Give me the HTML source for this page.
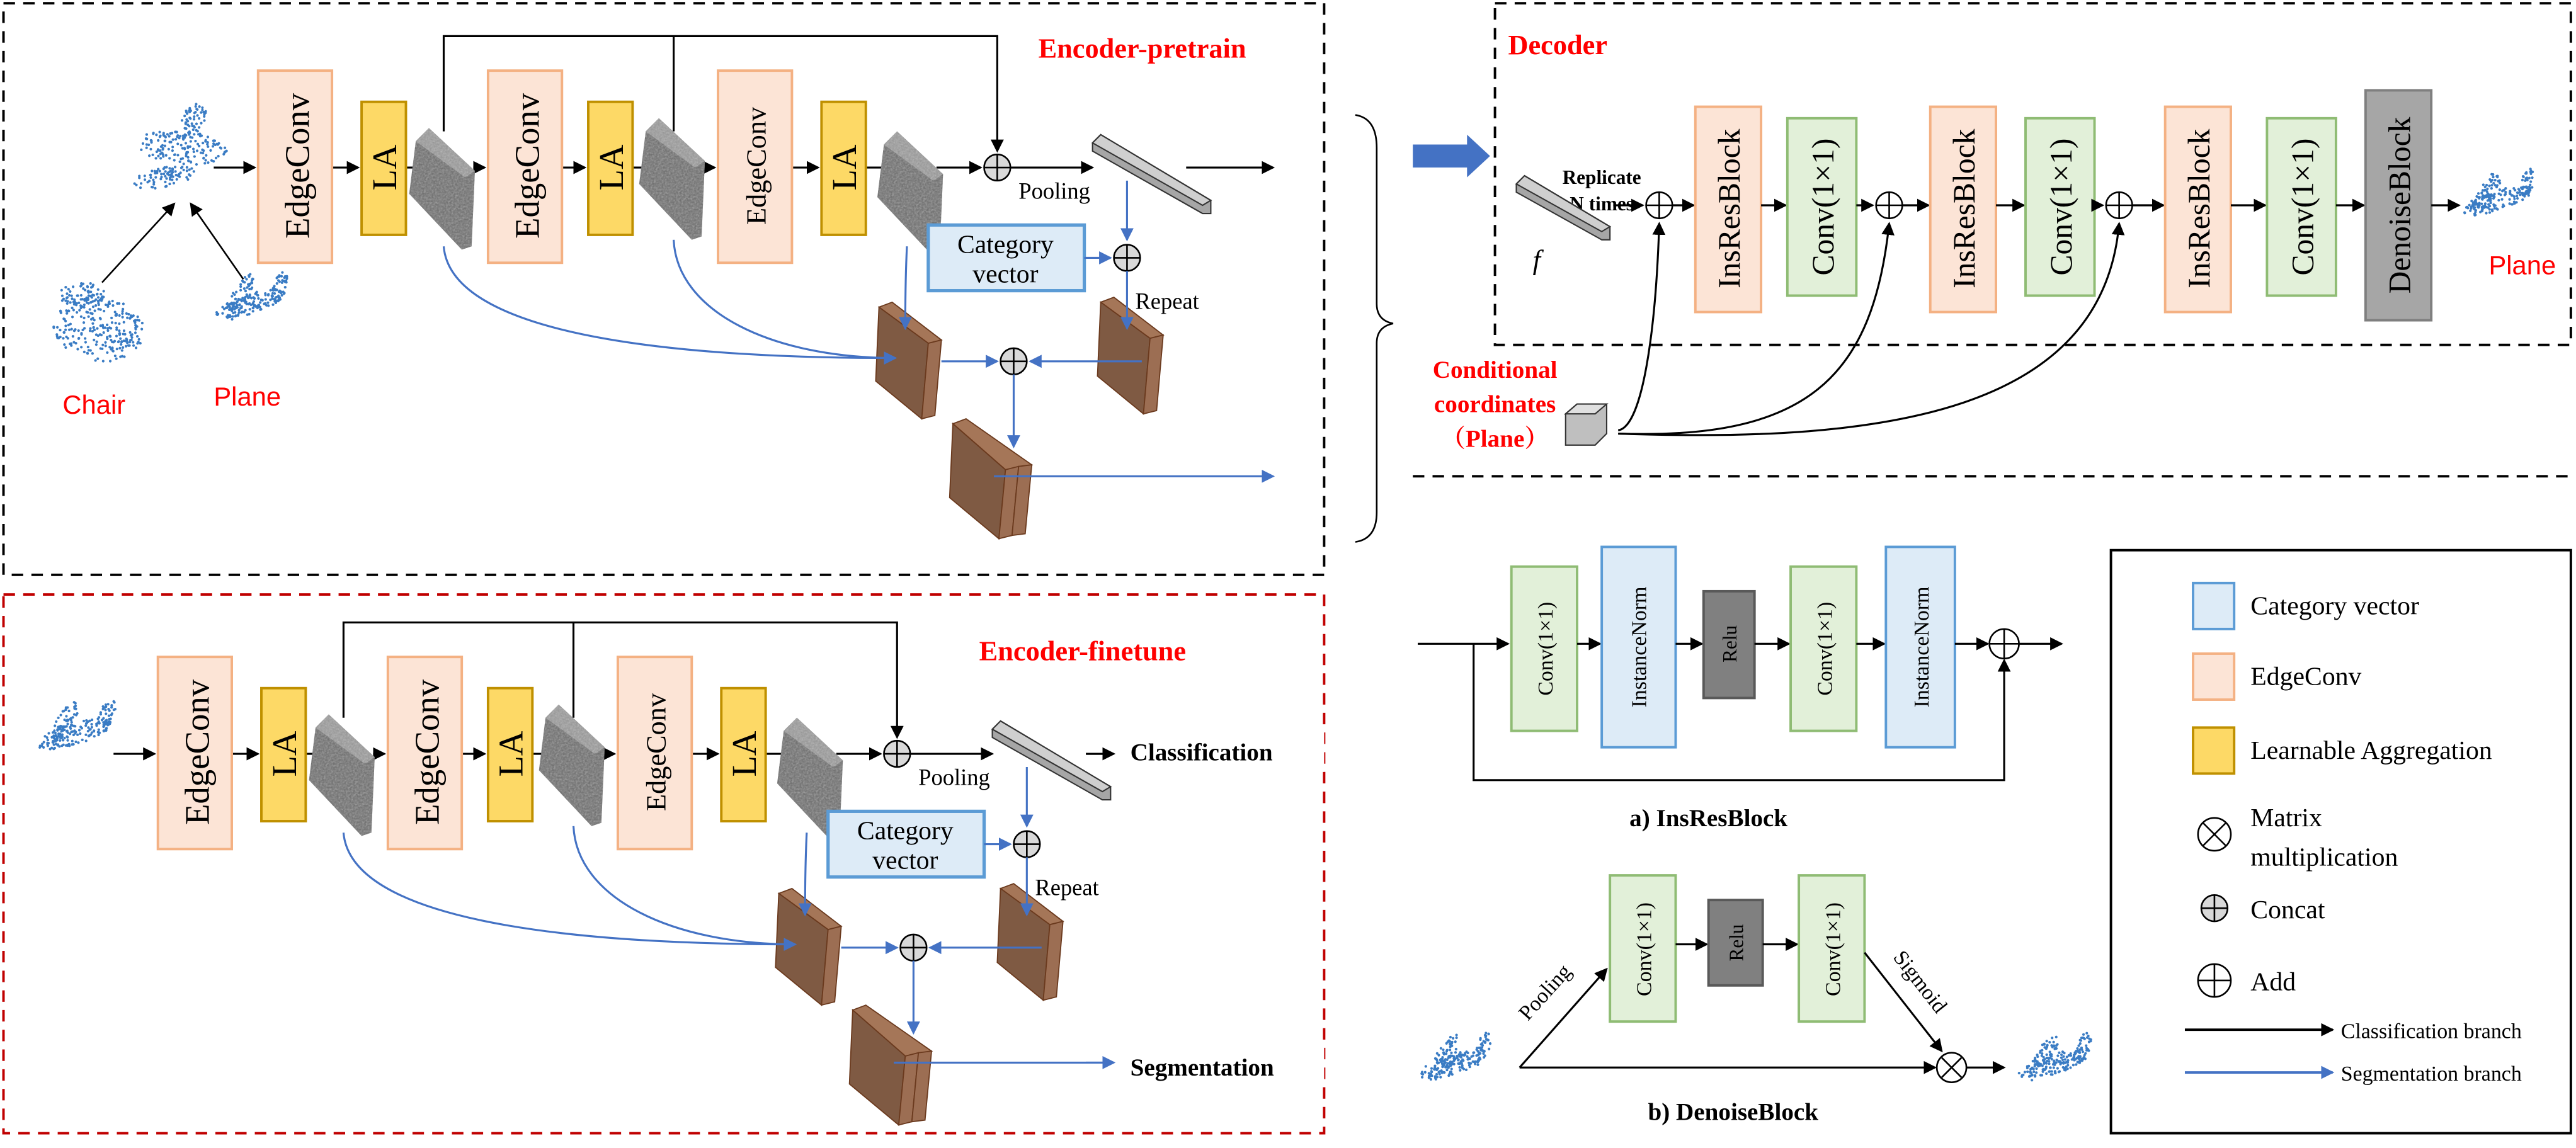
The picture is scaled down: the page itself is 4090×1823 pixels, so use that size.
<!DOCTYPE html>
<html><head><meta charset="utf-8"><style>html,body{margin:0;padding:0;background:#fff}svg{display:block}svg text{font-family:"Liberation Serif","Noto Serif CJK SC",serif}svg text.sans{font-family:"Liberation Sans",sans-serif}</style></head>
<body>
<svg id="s" width="4090" height="1823" viewBox="0 0 1568 699" xmlns="http://www.w3.org/2000/svg" style="font-family:'Liberation Serif',serif">
<defs>
<marker id="ak" markerWidth="8" markerHeight="8" refX="7" refY="4" orient="auto" markerUnits="userSpaceOnUse"><path d="M0,0 L8,4 L0,8z" fill="#000"/></marker>
<marker id="ab" markerWidth="8" markerHeight="8" refX="7" refY="4" orient="auto" markerUnits="userSpaceOnUse"><path d="M0,0 L8,4 L0,8z" fill="#4472c4"/></marker>
<filter id="noise"><feTurbulence type="fractalNoise" baseFrequency="0.9" numOctaves="2" result="n"/><feColorMatrix type="saturate" values="0"/><feComposite in2="SourceGraphic" operator="in"/></filter>
<g id="cc"><circle r="8" fill="#d9d9d9" stroke="#000" stroke-width="1"/><path d="M-8,0H8M0,-8V8" stroke="#000" stroke-width="1"/></g>
<g id="fb"><polygon points="0,8 8,0 36,26 34,72 28,74 -4,40" fill="#6a6a6a"/><polygon points="0,8 8,0 36,26 30,30" fill="#999"/><polygon points="0,8 8,0 36,26 34,72 28,74 -4,40" fill="#888" filter="url(#noise)" opacity="0.6"/></g>
<g id="bb"><polygon points="0,0 8,-3 38,20 30,22" fill="#a57658" stroke="#6b3a1e" stroke-width="0.7"/><polygon points="-2,45 0,0 30,22 26,68" fill="#7f5a43" stroke="#6b3a1e" stroke-width="0.7"/><polygon points="30,22 38,20 34,66 26,68" fill="#9c6e53" stroke="#6b3a1e" stroke-width="0.7"/></g>
<g id="bb2"><polygon points="0,0 8,-3 48,25 32,28" fill="#a57658" stroke="#6b3a1e" stroke-width="0.7"/><polygon points="-2,45 0,0 32,28 28,70" fill="#7f5a43" stroke="#6b3a1e" stroke-width="0.7"/><polygon points="32,28 40,26 36,68 28,70" fill="#9c6e53" stroke="#6b3a1e" stroke-width="0.7"/><polygon points="40,26 48,25 44,67 36,68" fill="#9c6e53" stroke="#6b3a1e" stroke-width="0.7"/></g>
<g id="pb"><polygon points="0,5 5,0 72,40 72,48 67,48 0,10" fill="#a6a6a6" stroke="#333" stroke-width="0.8"/><polygon points="5,0 72,40 67,43 0,5" fill="#cfcfcf" stroke="#333" stroke-width="0.8"/></g>
</defs>

<rect x="2" y="2" width="804" height="348" fill="none" stroke="#000" stroke-width="1.5" stroke-dasharray="7,5"/>
<rect x="2" y="362" width="804" height="328" fill="none" stroke="#c00000" stroke-width="1.5" stroke-dasharray="7,5"/>
<rect x="910" y="2" width="655" height="208" fill="none" stroke="#000" stroke-width="1.5" stroke-dasharray="7,5"/>
<path d="M860,290H1565" stroke="#000" stroke-width="1.5" stroke-dasharray="7,5"/>
<rect x="1285" y="335" width="280" height="355" fill="none" stroke="#000" stroke-width="1.5"/>
<path d="M825,70 Q838,72 838,90 V185 Q838,195 848,197 Q838,199 838,209 V312 Q838,328 825,330" fill="none" stroke="#000" stroke-width="1"/>
<polygon points="860,88 893,88 893,82 907,95 893,108 893,102 860,102" fill="#4472c4"/>

<text x="632" y="35" font-size="17" font-weight="bold" fill="#ff0000">Encoder-pretrain</text>
<text x="596" y="402" font-size="17" font-weight="bold" fill="#ff0000">Encoder-finetune</text>
<text x="918" y="33" font-size="17" font-weight="bold" fill="#ff0000">Decoder</text>

<g id="enc" style="font-family:'Liberation Serif',serif">
<path d="M270,80V22H607V92" fill="none" stroke="#000" stroke-width="1.2" marker-end="url(#ak)"/>
<path d="M410,80V22" fill="none" stroke="#000" stroke-width="1.2"/>
<path d="M130,102H155" stroke="#000" stroke-width="1.2" marker-end="url(#ak)"/>
<path d="M202,102H218" stroke="#000" stroke-width="1.2" marker-end="url(#ak)"/>
<path d="M247,102H268" stroke="#000" stroke-width="1.2" marker-end="url(#ak)"/>
<path d="M288,102H295" stroke="#000" stroke-width="1.2" marker-end="url(#ak)"/>
<path d="M342,102H356" stroke="#000" stroke-width="1.2" marker-end="url(#ak)"/>
<path d="M385,102H408" stroke="#000" stroke-width="1.2" marker-end="url(#ak)"/>
<path d="M428,102H435" stroke="#000" stroke-width="1.2" marker-end="url(#ak)"/>
<path d="M482,102H498" stroke="#000" stroke-width="1.2" marker-end="url(#ak)"/>
<path d="M527,102H538" stroke="#000" stroke-width="1.2"/>
<path d="M570,102H597" stroke="#000" stroke-width="1.2" marker-end="url(#ak)"/>
<rect x="157" y="43" width="45" height="117" fill="#fce4d6" stroke="#f4b183" stroke-width="1.5"/>
<text transform="translate(188,101) rotate(-90)" text-anchor="middle" font-size="21">EdgeConv</text>
<rect x="220" y="62" width="27" height="81" fill="#fdd966" stroke="#bf9000" stroke-width="1.5"/>
<text transform="translate(241,102) rotate(-90)" text-anchor="middle" font-size="21">LA</text>
<use href="#fb" x="253" y="78"/>
<rect x="297" y="43" width="45" height="117" fill="#fce4d6" stroke="#f4b183" stroke-width="1.5"/>
<text transform="translate(328,101) rotate(-90)" text-anchor="middle" font-size="21">EdgeConv</text>
<rect x="358" y="62" width="27" height="81" fill="#fdd966" stroke="#bf9000" stroke-width="1.5"/>
<text transform="translate(379,102) rotate(-90)" text-anchor="middle" font-size="21">LA</text>
<use href="#fb" x="393" y="72"/>
<rect x="437" y="43" width="45" height="117" fill="#fce4d6" stroke="#f4b183" stroke-width="1.5"/>
<text transform="translate(466,101) rotate(-90)" text-anchor="middle" font-size="17">EdgeConv</text>
<rect x="500" y="62" width="27" height="81" fill="#fdd966" stroke="#bf9000" stroke-width="1.5"/>
<text transform="translate(521,102) rotate(-90)" text-anchor="middle" font-size="21">LA</text>
<use href="#fb" x="538" y="80"/>
<use href="#cc" x="607" y="102"/>
<path d="M615,102H665" stroke="#000" stroke-width="1.2" marker-end="url(#ak)"/>
<use href="#pb" x="665" y="82"/>
<path d="M722,102H775" stroke="#000" stroke-width="1.2" marker-end="url(#ak)"/>
<text x="620" y="121" font-size="14">Pooling</text>
<rect x="565" y="137" width="95" height="40" fill="#ddebf7" stroke="#5b9bd5" stroke-width="2"/>
<text x="612" y="154" text-anchor="middle" font-size="16">Category</text>
<text x="612" y="172" text-anchor="middle" font-size="16">vector</text>
<path d="M686,110V146" stroke="#4472c4" stroke-width="1.2" marker-end="url(#ab)"/>
<path d="M660,157H676" stroke="#4472c4" stroke-width="1.2" marker-end="url(#ab)"/>
<use href="#cc" x="686" y="157"/>
<text x="691" y="188" font-size="14">Repeat</text>
<use href="#bb" x="535" y="187"/>
<use href="#bb" x="670" y="184"/>
<use href="#bb2" x="580" y="258"/>
<path d="M686,165V200" stroke="#4472c4" stroke-width="1.2" marker-end="url(#ab)"/>
<path d="M552,150Q551,170 551,200" fill="none" stroke="#4472c4" stroke-width="1.2" marker-end="url(#ab)"/>
<path d="M270,150 C275,210 440,218 545,218" fill="none" stroke="#4472c4" stroke-width="1.2" marker-end="url(#ab)"/>
<path d="M410,146 C412,190 470,218 545,218" fill="none" stroke="#4472c4" stroke-width="1.2"/>
<path d="M573,220H607" stroke="#4472c4" stroke-width="1.2" marker-end="url(#ab)"/>
<path d="M695,220H627" stroke="#4472c4" stroke-width="1.2" marker-end="url(#ab)"/>
<use href="#cc" x="617" y="220"/>
<path d="M617,228V272" stroke="#4472c4" stroke-width="1.2" marker-end="url(#ab)"/>
<path d="M605,290H775" stroke="#4472c4" stroke-width="1.2" marker-end="url(#ab)"/>
</g>
<path d="M62,172L106,124" stroke="#000" stroke-width="1" fill="none" marker-end="url(#ak)"/>
<path d="M148,170L116,124" stroke="#000" stroke-width="1" fill="none" marker-end="url(#ak)"/>
<text class="sans" x="38" y="252" font-size="16" fill="#ff0000">Chair</text>
<text class="sans" x="130" y="247" font-size="16" fill="#ff0000">Plane</text>

<g transform="translate(-61,357)" style="font-family:'Liberation Serif',serif">
<use href="#enc"/>
</g>
<rect x="676" y="445" width="130" height="25" fill="#fff"/>
<rect x="676" y="636" width="130" height="25" fill="#fff"/>
<path d="M661,459H678" stroke="#000" stroke-width="1.2" marker-end="url(#ak)"/>
<path d="M661,647H678" stroke="#4472c4" stroke-width="1.2" marker-end="url(#ab)"/>
<text x="688" y="463" font-size="15" font-weight="bold">Classification</text>
<text x="688" y="655" font-size="15" font-weight="bold">Segmentation</text>

<text x="975" y="112" text-anchor="middle" font-size="12" font-weight="bold">Replicate</text>
<text x="975" y="128" text-anchor="middle" font-size="12" font-weight="bold">N times</text>
<polygon points="923,112 928,107 980,138 980,146 975,146 923,117" fill="#a6a6a6" stroke="#333" stroke-width="0.8"/>
<polygon points="928,107 980,138 975,141 923,112" fill="#cfcfcf" stroke="#333" stroke-width="0.8"/>
<text x="933" y="164" font-size="17" font-style="italic">f</text>
<path d="M982,125H1000" stroke="#000" stroke-width="1.2" marker-end="url(#ak)"/>
<circle cx="1010" cy="125" r="8" fill="#fff" stroke="#000"/><path d="M1002,125H1018M1010,117V133" stroke="#000"/>
<path d="M1018,125H1031" stroke="#000" stroke-width="1.2" marker-end="url(#ak)"/>
<rect x="1032" y="65" width="40" height="125" fill="#fce4d6" stroke="#f4b183" stroke-width="1.5"/>
<text transform="translate(1059,127) rotate(-90)" text-anchor="middle" font-size="19">InsResBlock</text>
<path d="M1072,125H1087" stroke="#000" stroke-width="1.2" marker-end="url(#ak)"/>
<rect x="1088" y="72" width="42" height="108" fill="#e2f0d9" stroke="#8fbc74" stroke-width="1.5"/>
<text transform="translate(1116,126) rotate(-90)" text-anchor="middle" font-size="19">Conv(1×1)</text>
<path d="M1130,125H1140" stroke="#000" stroke-width="1.2" marker-end="url(#ak)"/>
<circle cx="1150" cy="125" r="8" fill="#fff" stroke="#000"/><path d="M1142,125H1158M1150,117V133" stroke="#000"/>
<path d="M1158,125H1174" stroke="#000" stroke-width="1.2" marker-end="url(#ak)"/>
<rect x="1175" y="65" width="40" height="125" fill="#fce4d6" stroke="#f4b183" stroke-width="1.5"/>
<text transform="translate(1202,127) rotate(-90)" text-anchor="middle" font-size="19">InsResBlock</text>
<path d="M1215,125H1232" stroke="#000" stroke-width="1.2" marker-end="url(#ak)"/>
<rect x="1233" y="72" width="42" height="108" fill="#e2f0d9" stroke="#8fbc74" stroke-width="1.5"/>
<text transform="translate(1261,126) rotate(-90)" text-anchor="middle" font-size="19">Conv(1×1)</text>
<path d="M1275,125H1280" stroke="#000" stroke-width="1.2" marker-end="url(#ak)"/>
<circle cx="1290" cy="125" r="8" fill="#fff" stroke="#000"/><path d="M1282,125H1298M1290,117V133" stroke="#000"/>
<path d="M1298,125H1317" stroke="#000" stroke-width="1.2" marker-end="url(#ak)"/>
<rect x="1318" y="65" width="40" height="125" fill="#fce4d6" stroke="#f4b183" stroke-width="1.5"/>
<text transform="translate(1345,127) rotate(-90)" text-anchor="middle" font-size="19">InsResBlock</text>
<path d="M1358,125H1379" stroke="#000" stroke-width="1.2" marker-end="url(#ak)"/>
<rect x="1380" y="72" width="42" height="108" fill="#e2f0d9" stroke="#8fbc74" stroke-width="1.5"/>
<text transform="translate(1408,126) rotate(-90)" text-anchor="middle" font-size="19">Conv(1×1)</text>
<path d="M1422,125H1439" stroke="#000" stroke-width="1.2" marker-end="url(#ak)"/>
<rect x="1440" y="55" width="40" height="140" fill="#a6a6a6" stroke="#7f7f7f" stroke-width="1.5"/>
<text transform="translate(1467,125) rotate(-90)" text-anchor="middle" font-size="19">DenoiseBlock</text>
<path d="M1480,125H1497" stroke="#000" stroke-width="1.2" marker-end="url(#ak)"/>
<text class="sans" x="1515" y="167" font-size="16" fill="#ff0000">Plane</text>
<text x="910" y="230" text-anchor="middle" font-size="15" font-weight="bold" fill="#ff0000">Conditional</text>
<text x="910" y="251" text-anchor="middle" font-size="15" font-weight="bold" fill="#ff0000">coordinates</text>
<text x="910" y="272" text-anchor="middle" font-size="15" font-weight="bold" fill="#ff0000">（Plane）</text>
<polygon points="953,252 960,246 978,246 978,264 971,271 953,271" fill="#bfbfbf" stroke="#333" stroke-width="0.8"/>
<polygon points="953,252 960,246 978,246 971,252" fill="#e0e0e0" stroke="#333" stroke-width="0.8"/>
<path d="M985,262 C1000,260 1008,200 1010,136" fill="none" stroke="#000" stroke-width="1.2" marker-end="url(#ak)"/>
<path d="M985,264 C1100,268 1140,230 1150,136" fill="none" stroke="#000" stroke-width="1.2" marker-end="url(#ak)"/>
<path d="M985,264 C1150,270 1280,250 1290,136" fill="none" stroke="#000" stroke-width="1.2" marker-end="url(#ak)"/>

<path d="M863,392H918" stroke="#000" stroke-width="1.2" marker-end="url(#ak)"/>
<path d="M897,392V475H1220V402" fill="none" stroke="#000" stroke-width="1.2" marker-end="url(#ak)"/>
<rect x="920" y="345" width="40" height="100" fill="#e2f0d9" stroke="#8fbc74" stroke-width="1.5"/>
<text transform="translate(945,395) rotate(-90)" text-anchor="middle" font-size="13">Conv(1×1)</text>
<path d="M960,392H974" stroke="#000" stroke-width="1.2" marker-end="url(#ak)"/>
<rect x="975" y="333" width="45" height="122" fill="#ddebf7" stroke="#5b9bd5" stroke-width="1.5"/>
<text transform="translate(1002,394) rotate(-90)" text-anchor="middle" font-size="13">InstanceNorm</text>
<path d="M1020,392H1036" stroke="#000" stroke-width="1.2" marker-end="url(#ak)"/>
<rect x="1037" y="360" width="31" height="65" fill="#808080" stroke="#595959" stroke-width="1.5"/>
<text transform="translate(1057,392) rotate(-90)" text-anchor="middle" font-size="12">Relu</text>
<path d="M1068,392H1089" stroke="#000" stroke-width="1.2" marker-end="url(#ak)"/>
<rect x="1090" y="345" width="40" height="100" fill="#e2f0d9" stroke="#8fbc74" stroke-width="1.5"/>
<text transform="translate(1115,395) rotate(-90)" text-anchor="middle" font-size="13">Conv(1×1)</text>
<path d="M1130,392H1147" stroke="#000" stroke-width="1.2" marker-end="url(#ak)"/>
<rect x="1148" y="333" width="42" height="122" fill="#ddebf7" stroke="#5b9bd5" stroke-width="1.5"/>
<text transform="translate(1174,394) rotate(-90)" text-anchor="middle" font-size="13">InstanceNorm</text>
<path d="M1190,392H1210" stroke="#000" stroke-width="1.2" marker-end="url(#ak)"/>
<circle cx="1220" cy="392" r="9" fill="#fff" stroke="#000"/><path d="M1211,392H1229M1220,383V401" stroke="#000"/>
<path d="M1229,392H1255" stroke="#000" stroke-width="1.2" marker-end="url(#ak)"/>
<text x="1040" y="503" text-anchor="middle" font-size="15" font-weight="bold">a) InsResBlock</text>

<path d="M925,650H1178" stroke="#000" stroke-width="1.2" marker-end="url(#ak)"/>
<path d="M925,650L978,590" stroke="#000" stroke-width="1.2" marker-end="url(#ak)"/>
<text transform="translate(930,622) rotate(-48)" font-size="13">Pooling</text>
<rect x="980" y="533" width="40" height="89" fill="#e2f0d9" stroke="#8fbc74" stroke-width="1.5"/>
<text transform="translate(1005,578) rotate(-90)" text-anchor="middle" font-size="13">Conv(1×1)</text>
<path d="M1020,575H1039" stroke="#000" stroke-width="1.2" marker-end="url(#ak)"/>
<rect x="1040" y="548" width="33" height="52" fill="#808080" stroke="#595959" stroke-width="1.5"/>
<text transform="translate(1061,574) rotate(-90)" text-anchor="middle" font-size="12">Relu</text>
<path d="M1073,575H1094" stroke="#000" stroke-width="1.2" marker-end="url(#ak)"/>
<rect x="1095" y="533" width="40" height="89" fill="#e2f0d9" stroke="#8fbc74" stroke-width="1.5"/>
<text transform="translate(1120,578) rotate(-90)" text-anchor="middle" font-size="13">Conv(1×1)</text>
<path d="M1135,580L1182,640" stroke="#000" stroke-width="1.2" marker-end="url(#ak)"/>
<text transform="translate(1152,583) rotate(52)" font-size="13">Sigmoid</text>
<circle cx="1188" cy="650" r="9" fill="#fff" stroke="#000"/><path d="M1182,644L1194,656M1194,644L1182,656" stroke="#000"/>
<path d="M1197,650H1220" stroke="#000" stroke-width="1.2" marker-end="url(#ak)"/>
<text x="1055" y="682" text-anchor="middle" font-size="15" font-weight="bold">b) DenoiseBlock</text>

<rect x="1335" y="355" width="25" height="28" fill="#ddebf7" stroke="#5b9bd5" stroke-width="1.5"/>
<text x="1370" y="374" font-size="16">Category vector</text>
<rect x="1335" y="398" width="25" height="28" fill="#fce4d6" stroke="#f4b183" stroke-width="1.5"/>
<text x="1370" y="417" font-size="16">EdgeConv</text>
<rect x="1335" y="443" width="25" height="28" fill="#fdd966" stroke="#bf9000" stroke-width="1.5"/>
<text x="1370" y="462" font-size="16">Learnable Aggregation</text>
<circle cx="1348" cy="508" r="10" fill="#fff" stroke="#000"/><path d="M1341,501L1355,515M1355,501L1341,515" stroke="#000"/>
<text x="1370" y="503" font-size="16">Matrix</text>
<text x="1370" y="527" font-size="16">multiplication</text>
<use href="#cc" x="1348" y="553"/>
<text x="1370" y="559" font-size="16">Concat</text>
<circle cx="1348" cy="597" r="10" fill="#fff" stroke="#000"/><path d="M1338,597H1358M1348,587V607" stroke="#000"/>
<text x="1370" y="603" font-size="16">Add</text>
<path d="M1330,627H1420" stroke="#000" stroke-width="1.5" marker-end="url(#ak)"/>
<text x="1425" y="632" font-size="13">Classification branch</text>
<path d="M1330,653H1420" stroke="#4472c4" stroke-width="1.5" marker-end="url(#ab)"/>
<text x="1425" y="658" font-size="13">Segmentation branch</text>
<g id="dots" fill="#3a7cc4"></g>
</svg>
<script>
(function(){
var g=document.getElementById('dots');var seed=7;function r(){seed=(seed*16807)%2147483647;return seed/2147483647;}
function cloud(cx,cy,rx,ry,n,rot){var c=Math.cos(rot),s=Math.sin(rot);for(var i=0;i<n;i++){var a=r()*6.283,d=Math.sqrt(r());var x=Math.cos(a)*d*rx,y=Math.sin(a)*d*ry;var e=document.createElementNS('http://www.w3.org/2000/svg','circle');e.setAttribute('cx',(cx+x*c-y*s).toFixed(1));e.setAttribute('cy',(cy+x*s+y*c).toFixed(1));e.setAttribute('r',0.8);g.appendChild(e);}}
function plane(cx,cy,k){cloud(cx,cy,22*k,6*k,120,-0.3);cloud(cx-6*k,cy-4*k,5*k,16*k,70,0.5);cloud(cx+18*k,cy-10*k,4*k,10*k,40,0.3);}
cloud(110,90,28,10,150,0.1);cloud(100,108,20,6,80,-0.2);cloud(118,75,8,12,60,0.3);
cloud(60,200,28,20,260,0.2);cloud(50,180,14,8,60,0);
plane(152,185,1);
plane(45,447,1.1);
plane(1520,122,1);
plane(885,648,1);
plane(1250,648,1);
})();
</script>
</body></html>
